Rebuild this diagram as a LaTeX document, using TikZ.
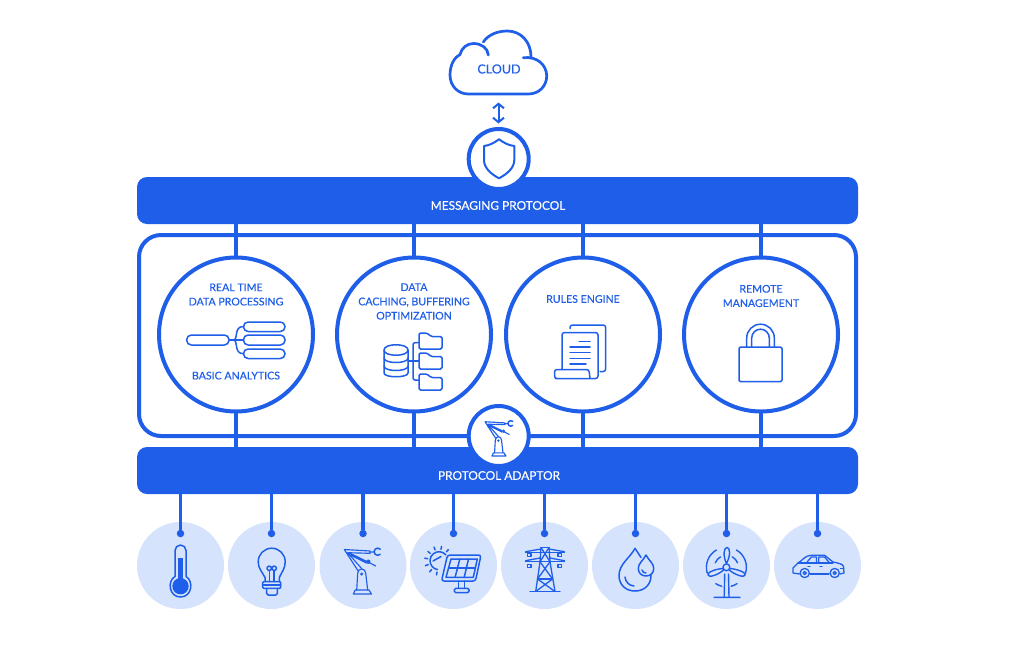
\documentclass[tikz,border=0pt]{standalone}
\usepackage{fontspec}
\setmainfont{Lato}
\newfontfamily\brandfont[FakeBold=0.3]{Lato}
\usetikzlibrary{arrows.meta,calc}
\definecolor{brand}{HTML}{1F5EE8}
\definecolor{bubble}{HTML}{D6E3FD}
\tikzset{
  bar/.style={fill=brand,draw=none,rounded corners=10pt,minimum width=721pt,minimum height=47pt,inner sep=0pt},
  bartext/.style={text=white,font=\brandfont\fontsize{11.9}{14}\selectfont,inner sep=0pt},
  procnode/.style={circle,draw=brand,line width=4pt,fill=white,minimum size=154pt,inner sep=0pt},
  hubnode/.style={circle,draw=brand,line width=4pt,fill=white,minimum size=60pt,inner sep=0pt},
  devnode/.style={circle,fill=bubble,minimum size=87pt,inner sep=0pt},
  dotnode/.style={circle,fill=brand,minimum size=7.5pt,inner sep=0pt},
  wire/.style={draw=brand,line width=3.2pt},
  ico/.style={draw=brand,line width=1.5pt,line cap=round,line join=round},
  robo/.style={draw=brand,line width=1.15pt,line cap=round,line join=round},
  lbl/.style={text=brand,align=center,font=\brandfont\fontsize{10.6}{14.3}\selectfont,inner sep=0pt},
  pics/robot/.style={code={
    \draw[robo] (-9.7,23.5) -- (8.5,23.5) (-7.8,19.5) -- (6,19.5) (-9.7,23.5) -- (-7.8,19.5) (8.5,23.5) -- (6,19.5);
    \draw[robo] (-6.3,19.5) -- (-5.3,2.8) .. controls (-5,0) and (-3.5,-1.5) .. (-1.5,-1.5) .. controls (1,-1.5) and (2.5,0) .. (2.7,2.8) -- (4.7,19.5);
    \fill[brand] (-1.3,3.5) circle (1.7);
    \draw[robo] (-4.5,1) -- (-18.7,-21) -- (7,-19.5) -- (7,-17.2) -- (-15.3,-17.8) -- (-1,-1.5);
    \draw[robo] (7,-18.4) -- (11,-18.6);
    \draw[robo,line width=1.5pt] (14.7,-18.8) ++(45:3.6) arc[start angle=45,end angle=315,radius=3.6];
    \draw[robo] (-13.5,-17.5) -- (3,-9.5) (-12.5,-15.5) -- (3.5,-7.5) (6,-8) -- (12.7,-4.5);
    \fill[brand] (5.3,-8.8) circle (2.2);
  }},
}
\begin{document}
\begin{tikzpicture}[x=1pt,y=-1pt]
\useasboundingbox[fill=white] (0,0) rectangle (1024,648);

% named nodes
\node[bar] (mp) at (497.5,200.5) {};
\node[bar] (pa) at (497.5,470.5) {};
\foreach \n/\x in {p1/236,p2/414,p3/583,p4/761}{
  \coordinate (\n top) at (\x,224);
  \coordinate (\n bot) at (\x,447);
}
\foreach \n in {p1,p2,p3,p4}{
  \draw[wire] (\n top) -- (\n bot);
}
\draw[draw=brand,line width=4pt,rounded corners=22pt] (139,235) rectangle (856,436);

\node[procnode] (p1) at (236,334.5) {};
\node[procnode] (p2) at (414,334.5) {};
\node[procnode] (p3) at (583,334.5) {};
\node[procnode] (p4) at (761,334.5) {};

\node[hubnode] (shield) at (498.7,159) {};
\node[hubnode] (adaptor) at (498.7,436) {};

\node[bartext] at (498,205.5) {MESSAGING PROTOCOL};
\node[bartext] at (499,475.5) {PROTOCOL ADAPTOR};

% cloud
\node[lbl,font=\brandfont\fontsize{12.5}{14}\selectfont] (cloud) at (499,69) {CLOUD};
\draw[draw=brand,line width=2.7pt,line cap=round,line join=round]
  (523.3,57.7) .. controls (537,56) and (546.7,65) .. (546.7,76)
  .. controls (546.7,86) and (539,94) .. (528.3,94) -- (468.3,94)
  .. controls (458,94) and (450,86) .. (450,75)
  .. controls (450,64) and (455,57) .. (460,54.5)
  .. controls (461.5,48) and (467,43.5) .. (473.5,43.5)
  .. controls (481,43.5) and (488,48) .. (488.3,55);
\draw[draw=brand,line width=2.7pt,line cap=round,line join=round]
  (531,56.7) .. controls (531,42) and (521,31) .. (507.3,31)
  .. controls (497,31) and (488,35) .. (483.3,42);
\coordinate (cloudport) at (498.5,102.5);
\coordinate (shieldport) at (498.5,123.5);
\draw[draw=brand,line width=2pt,{Straight Barb[length=4.5pt,width=11pt]}-{Straight Barb[length=4.5pt,width=11pt]}] (cloudport) -- (shieldport);

% shield
\draw[draw=brand,line width=2pt,line join=round]
  (499,139.3) .. controls (494,143) and (489,145.5) .. (484,146)
  -- (484,160) .. controls (484,168) and (491,174) .. (499,178.3)
  .. controls (507,174) and (514.3,168) .. (514.3,160) -- (514.3,146)
  .. controls (509,145.5) and (504,143) .. (499,139.3) -- cycle;

% adaptor robot
\pic[scale=0.77] at (499.4,437.9) {robot};

% process labels
\node[lbl] at (236,294.5) {REAL TIME\\DATA PROCESSING};
\node[lbl] at (236,375.6) {BASIC ANALYTICS};
\node[lbl] at (414,301.5) {DATA\\CACHING, BUFFERING\\OPTIMIZATION};
\node[lbl] at (583,299) {RULES ENGINE};
\node[lbl] at (761,296) {REMOTE\\MANAGEMENT};

% mind map icon
\begin{scope}[ico]
\draw[rounded corners=4.6pt] (186.7,335) rectangle (229,345);
\draw[rounded corners=4.6pt] (243.5,322) rectangle (285,331.5);
\draw[rounded corners=4.6pt] (243.5,335) rectangle (285,345);
\draw[rounded corners=4.6pt] (243.5,349) rectangle (285,358.5);
\draw (229,340) -- (243.5,340);
\draw (233,340) .. controls (239,340) and (233,326.5) .. (243.5,326.5);
\draw (233,340) .. controls (239,340) and (233,353.7) .. (243.5,353.7);
\end{scope}

% database icon
\begin{scope}[ico]
\draw (384,350) .. controls (384,343) and (408,343) .. (408,350) .. controls (408,357) and (384,357) .. (384,350) -- cycle;
\draw (384,350) -- (384,373) .. controls (384,378) and (408,378) .. (408,373) -- (408,350);
\draw (384,358) .. controls (384,364) and (408,364) .. (408,358);
\draw (384,366) .. controls (384,372) and (408,372) .. (408,366);
\draw (408,361) -- (419,361);
\draw[rounded corners=2pt] (419,342.7) -- (413,342.7) -- (413,380) -- (419,380);
\foreach \y in {333,353,374}{
  \draw[rounded corners=1.5pt] (419,\y) -- (427,\y) -- (431,\y+3.5) -- (442,\y+3.5) -- (442,\y+16) -- (419,\y+16) -- cycle;
}
\end{scope}

% document icon
\begin{scope}[ico]
\draw[rounded corners=2.5pt] (570,328.5) -- (570,325) -- (605.7,325) -- (605.7,371.5) -- (600,371.5);
\draw[rounded corners=2.5pt] (562,369.5) -- (562,332.5) -- (598,332.5) -- (598,378.5) -- (558,378.5) -- (554.5,378.5) -- (554.5,369.5) -- (589,369.5) -- (590,378.5);
\draw (579,341.5) -- (590,341.5) (570,347.2) -- (590,347.2) (570,352.7) -- (590,352.7) (570,358.3) -- (590,358.3) (570,364) -- (586,364);
\end{scope}

% lock icon
\begin{scope}[ico]
\draw[rounded corners=1.5pt] (739,347) rectangle (782,381.7);
\draw (746.7,347) -- (746.7,338) arc[start angle=180,end angle=360,radius=13.8] -- (774.3,347);
\draw (751.7,347) -- (751.7,338) arc[start angle=180,end angle=360,radius=8.8] -- (769.3,347);
\end{scope}

% device circles and wires
\foreach \n/\x in {d1/180.5,d2/271.5,d3/363,d4/453.5,d5/544.5,d6/635.5,d7/726.5,d8/817.5}{
  \node[devnode] (\n) at (\x,565.5) {};
  \node[dotnode] (\n dot) at (\x,533.5) {};
  \draw[wire] (\n dot |- pa.south) -- (\n dot);
}

% thermometer
\begin{scope}[ico]
\draw (175,576.5) -- (175,550.5) arc[start angle=180,end angle=360,radius=5.5] -- (186,576.5)
  .. controls (194,581) and (192,597) .. (180.5,597)
  .. controls (169,597) and (167,581) .. (175,576.5);
\fill[brand] (178.2,558) rectangle (183,580);
\fill[brand] (180.5,586.2) circle (8.2);
\end{scope}

% bulb
\begin{scope}[ico]
\draw (265,581.7) -- (265,577.5) .. controls (262,571.5) and (258.2,568.5) .. (258.2,561.7)
  arc[start angle=180,end angle=360,radius=13.5] .. controls (285.2,568.5) and (282,571.5) .. (279.3,577.5) -- (279.3,581.7);
\draw[rounded corners=1pt] (262.7,581.7) rectangle (280.7,588.3);
\draw (262.7,585) -- (280.7,585);
\draw[rounded corners=1.5pt] (266.7,588.3) -- (266.7,595) -- (277.3,595) -- (277.3,588.3);
\draw (269.5,581.7) -- (269.5,570.5) (274,581.7) -- (274,570.5);
\draw (269.2,568.3) circle (2.2) (274.2,568.3) circle (2.2);
\end{scope}

% robot
\pic at (363,570.5) {robot};

% solar panel
\begin{scope}[ico]
\draw (439,560.7) ++(-40:9) arc[start angle=-40,end angle=-260,radius=9];
\draw (433,561) -- (441,556.5);
\foreach \a in {-50,-80,-110,-140,-170,-200,-230,-260}{
  \draw (439,560.7) ++(\a:11.5) -- ++(\a:3);
}
\end{scope}
\draw[ico,rounded corners=2.5pt,fill=bubble] (447.5,555) -- (481,555) -- (475.5,581) -- (441.5,581) -- cycle;
\begin{scope}[ico]
\draw (451,559) -- (477.3,559) -- (473.3,577.3) -- (446,577.3) -- cycle;
\draw (448.5,568.2) -- (475.3,568.2);
\draw (459.8,559) -- (455.1,577.3) (468.5,559) -- (464.2,577.3);
\draw (458.3,581) -- (458.3,588.3) (464.3,581) -- (464.3,588.3);
\draw[rounded corners=1.5pt] (454.3,588.3) rectangle (469,592.7);
\end{scope}

% pylon
\begin{scope}[ico,line width=1.3pt]
\draw (530,591.7) -- (560,591.7);
\draw (541,547.5) -- (549,547.5);
\draw (541,547.5) -- (540,562) -- (535.7,591.5) (549,547.5) -- (550,562) -- (555,591.5);
\draw (525.5,551.7) -- (541,549) (549,549) -- (564.5,551.7);
\draw (525.5,560.7) -- (540,558) (550,558) -- (564.5,560.7);
\draw (525.5,552.7) -- (564.5,552.7) (525.5,561.7) -- (564.5,561.7);
\draw (541,547.5) -- (550,561.7) (549,547.5) -- (540,561.7);
\draw (540,561.7) -- (552.5,579) -- (535.7,591.5) (550,561.7) -- (537.5,579) -- (555,591.5);
\draw (537.5,579) -- (552.5,579);
\foreach \x/\y in {529.2/555.3,559.8/555.3,529.2/566,559.8/566}{
  \draw (\x-1.8,\y-1.5) rectangle (\x+1.8,\y+1.5);
}
\end{scope}

% water drops
\begin{scope}[ico]
\draw (635,548.3) .. controls (630,558) and (619,564) .. (619,575.5)
  .. controls (619,585) and (626,591) .. (635,591)
  .. controls (644,591) and (651,585) .. (651,575.5)
  .. controls (651,572) and (650,570) .. (649,568);
\draw (635,548.3) -- (641,557.5);
\draw[fill=bubble] (646,555) .. controls (643,561) and (638.3,563) .. (638.3,568.5)
  .. controls (638.3,573) and (641.5,576) .. (646,576)
  .. controls (650.5,576) and (653.7,573) .. (653.7,568.5)
  .. controls (653.7,563) and (649,561) .. (646,555) -- cycle;
\draw (642,570) .. controls (642.5,572) and (644,573) .. (646,573);
\draw (625,577) .. controls (625.5,582) and (629,585.5) .. (634,586);
\end{scope}

% turbine
\begin{scope}[ico,line width=1.4pt]
\coordinate (hub) at (726.4,567.3);
\draw (724.7,574) -- (724.2,597) (728.5,574) -- (729,597) (714,597.3) -- (740,597.3);
\draw (hub) circle (3.4);
\draw (726.4,563.5) .. controls (723,556) and (723.5,548) .. (727,547.3) .. controls (730.5,548) and (730.5,556) .. (726.4,563.5);
\draw (722.8,568.5) .. controls (716,569) and (707,572) .. (708,575) .. controls (708.5,578) and (718,575) .. (723.5,570);
\draw (730,568.5) .. controls (736,569) and (746,572) .. (745.2,575) .. controls (744.5,578) and (735,575) .. (729.3,570);
\draw (hub) ++(163:20) arc[start angle=163,end angle=240,radius=20];
\draw (hub) ++(17:20) arc[start angle=17,end angle=-60,radius=20];
\draw (hub) ++(123:19.5) arc[start angle=123,end angle=104,radius=19.5];
\draw (hub) ++(57:19.5) arc[start angle=57,end angle=76,radius=19.5];
\draw (hub) ++(202:12) arc[start angle=202,end angle=241,radius=12];
\draw (hub) ++(-22:12) arc[start angle=-22,end angle=-61,radius=12];
\end{scope}

% car
\begin{scope}[ico,line width=1.3pt]
\draw (799.5,574) -- (793,573) -- (793,568) -- (798,563) .. controls (802,561) and (805,555.3) .. (811,555.3)
  -- (824.7,555.3) -- (833,562) .. controls (838,563) and (843,564) .. (843.5,566.5) -- (844,573) -- (840,574);
\draw (810,574) -- (829,574);
\draw (804.7,573) circle (4.6) (804.7,573) circle (1.6);
\draw (834.7,573) circle (4.6) (834.7,573) circle (1.6);
\draw (798,563) -- (833,563);
\draw (806.3,563) -- (811.3,557) -- (816.5,557) -- (816.5,563);
\draw (818.7,557) -- (824.5,557) -- (829.7,563) (818.7,557) -- (818.7,563);
\draw (808,566.5) -- (810,566.5) (820,566.5) -- (822,566.5) (840.5,568.5) -- (843.5,568.5);
\end{scope}
\end{tikzpicture}
\end{document}
